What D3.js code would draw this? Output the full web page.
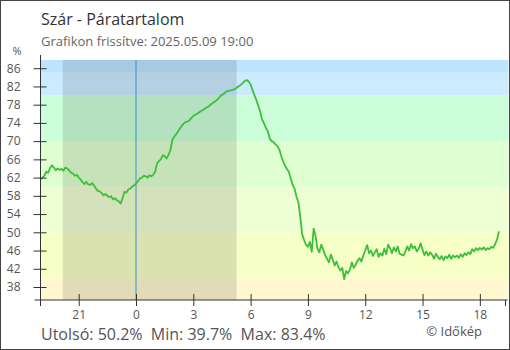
<!DOCTYPE html>
<html>
<head>
<meta charset="utf-8">
<script src="https://cdn.jsdelivr.net/npm/d3@7"></script>
<style>
  body { margin: 0; background: #fff; }
  svg { display: block; font-family: "Open Sans", sans-serif; }
</style>
</head>
<body>
<div id="chart"></div>
<script>
// chart texts
const title = "Szár - Páratartalom";
const subtitle = "Grafikon frissítve: 2025.05.09 19:00";
const unit = "%";
const summary = "Utolsó: 50.2%  Min: 39.7%  Max: 83.4%";
const credit = "© Időkép";

// humidity (%), one value every 6 minutes from 2025.05.08 19:00 to 2025.05.09 19:00
const startTime = new Date(2025, 4, 8, 19, 0);
const endTime = new Date(2025, 4, 9, 19, 30);
const stepMinutes = 6;
const humidity = [
  61.6, 62.0, 62.4, 63.3, 63.0, 64.1, 64.7, 64.2, 63.6, 64.0,
  63.7, 63.9, 63.5, 64.2, 64.0, 63.6, 63.1, 62.9, 62.4, 62.6,
  62.0, 61.6, 61.0, 60.6, 61.1, 60.5, 60.4, 60.8, 60.3, 59.6,
  59.1, 59.0, 58.6, 58.1, 58.4, 58.0, 57.7, 57.9, 57.2, 57.5,
  57.0, 56.8, 56.3, 57.6, 58.9, 58.7, 59.4, 59.6, 60.0, 60.3,
  60.7, 61.2, 61.8, 62.0, 62.4, 62.3, 62.0, 62.5, 62.3, 62.6,
  63.3, 65.1, 65.6, 66.0, 66.9, 66.7, 66.2, 67.0, 68.0, 70.2,
  71.0, 71.5, 72.1, 72.8, 73.4, 73.9, 74.2, 74.3, 74.6, 75.1,
  75.5, 75.8, 76.0, 76.3, 76.6, 76.8, 77.1, 77.4, 77.6, 78.0,
  78.3, 78.6, 78.9, 79.3, 79.8, 80.1, 80.4, 80.8, 81.0, 81.1,
  81.2, 81.3, 81.5, 81.8, 82.1, 82.4, 82.8, 83.2, 83.4, 83.1,
  82.4, 81.2, 80.1, 79.0, 77.8, 76.5, 74.8, 73.9, 72.9, 72.2,
  70.6, 70.0, 69.8, 69.3, 68.9, 68.2, 66.8, 65.6, 64.6, 63.9,
  63.3, 61.8, 60.4, 59.6, 57.8, 56.6, 53.4, 49.5, 48.3, 47.3,
  46.8, 47.9, 45.7, 50.8, 49.2, 46.4, 45.6, 47.3, 46.2, 45.0,
  44.2, 43.4, 45.1, 44.0, 42.7, 43.6, 42.3, 41.6, 42.2, 39.7,
  41.5, 41.0, 41.8, 43.4, 42.2, 42.9, 43.8, 44.3, 43.6, 44.9,
  46.0, 47.2, 45.4, 46.0, 44.8, 45.6, 46.3, 44.6, 45.4, 44.9,
  46.4, 45.2, 47.3, 46.5, 45.4, 46.7, 45.8, 46.9, 45.3, 45.1,
  44.9, 45.8, 46.9, 46.0, 47.4, 46.5, 46.9, 45.8, 46.4, 47.6,
  46.2, 45.0, 45.8, 44.9, 45.6, 45.1, 44.2, 45.3, 44.6, 44.1,
  44.8, 43.9, 44.7, 44.3, 45.1, 44.2, 44.9, 44.5, 44.9, 44.4,
  45.2, 44.6, 45.4, 45.0, 45.6, 45.2, 46.3, 45.8, 46.5, 46.1,
  46.6, 46.2, 46.7, 46.1, 46.5, 46.3, 46.8, 46.6, 47.4, 48.4,
  50.2
];

// night (sunset / sunrise)
const nightStart = new Date(2025, 4, 8, 20, 10);
const nightEnd = new Date(2025, 4, 9, 5, 16);
const midnight = new Date(2025, 4, 9, 0, 0);

// axis ticks and background band limits (%)
const yTicks = [38, 42, 46, 50, 54, 58, 62, 66, 70, 74, 78, 82, 86];
const yDomain = [35.15, 87.8];
const bandLimits = [35.15, 40, 50, 60, 70, 80, 85, 87.8];
const bandColors = ["#fff7d0", "#f6ffc6", "#eeffd4", "#e0ffd0", "#ccffd9", "#cbebff", "#bde3fe"];

const W = 510, H = 350;
const plot = { left: 40.5, right: 508.5, top: 60, bottom: 300 };

const svg = d3.select("#chart").append("svg")
  .attr("width", W).attr("height", H)
  .attr("viewBox", [0, 0, W, H]);

const x = d3.scaleTime().domain([startTime, endTime]).range([plot.left, plot.right]);
const y = d3.scaleLinear().domain(yDomain).range([plot.bottom, plot.top]);

// background bands
svg.append("g").selectAll("rect")
  .data(d3.pairs(bandLimits))
  .join("rect")
  .attr("x", plot.left)
  .attr("width", plot.right - plot.left)
  .attr("y", d => y(d[1]))
  .attr("height", d => y(d[0]) - y(d[1]))
  .attr("fill", (d, i) => bandColors[i]);

// night shading
svg.append("rect")
  .attr("x", x(nightStart))
  .attr("width", x(nightEnd) - x(nightStart))
  .attr("y", plot.top)
  .attr("height", plot.bottom - plot.top)
  .attr("fill", "rgba(0,0,0,0.115)");

// midnight line
svg.append("line")
  .attr("x1", x(midnight)).attr("x2", x(midnight))
  .attr("y1", plot.top).attr("y2", plot.bottom)
  .attr("stroke", "#3a8fcc").attr("stroke-width", 1);

// humidity line
const points = humidity.map((v, i) => ({ t: d3.timeMinute.offset(startTime, i * stepMinutes), v }));
svg.append("path")
  .datum(points)
  .attr("fill", "none")
  .attr("stroke", "#3cbf3c")
  .attr("stroke-width", 1.8)
  .attr("stroke-linejoin", "round")
  .attr("d", d3.line().x(d => x(d.t)).y(d => y(d.v)));

// axes
const yAxis = svg.append("g")
  .attr("transform", `translate(${plot.left},0)`)
  .call(d3.axisLeft(y).tickValues(yTicks).tickSize(7).tickPadding(13).tickSizeOuter(0));
yAxis.select(".domain").attr("d", `M0,${plot.top - 5}V${plot.bottom + 6}`);
yAxis.selectAll(".tick line").attr("x2", 6).attr("x1", -7);

const xAxis = svg.append("g")
  .attr("transform", `translate(0,${plot.bottom})`)
  .call(d3.axisBottom(x).ticks(d3.timeHour.every(3)).tickFormat(d3.timeFormat("%-H"))
    .tickSize(6).tickPadding(4).tickSizeOuter(0));
xAxis.select(".domain").attr("d", `M${plot.left - 6},0H${plot.right - 1}`);
xAxis.selectAll(".tick line").attr("y1", -6).attr("y2", 6);
xAxis.selectAll(".tick").filter(d => +d === +startTime).remove();
[plot.left, plot.right - 3].forEach(px =>
  xAxis.append("line").attr("x1", px).attr("x2", px).attr("y1", 0).attr("y2", 6).attr("stroke", "#333"));

[yAxis, xAxis].forEach(a => {
  a.selectAll(".domain, .tick line").attr("stroke", "#333");
  a.selectAll("text").attr("fill", "#555").style("font-size", "12px").style("font-family", "Open Sans, sans-serif");
});

// texts
svg.append("text").attr("x", 41).attr("y", 25)
  .attr("fill", "#333").style("font-size", "16px").text(title);
svg.append("text").attr("x", 41).attr("y", 46)
  .attr("fill", "#666").style("font-size", "13px").text(subtitle);
svg.append("text").attr("x", 17).attr("y", 55).attr("text-anchor", "middle")
  .attr("fill", "#555").style("font-size", "11px").text(unit);
svg.append("text").attr("x", 41).attr("y", 340)
  .attr("fill", "#555").style("font-size", "16px").style("white-space", "pre").text(summary);
svg.append("text").attr("x", 482).attr("y", 336).attr("text-anchor", "end")
  .attr("fill", "#555").style("font-size", "13px").text(credit);

// outer frame
svg.append("rect").attr("x", 0.5).attr("y", 0.5).attr("width", W - 1).attr("height", H - 1)
  .attr("fill", "none").attr("stroke", "#444");
</script>
</body>
</html>
